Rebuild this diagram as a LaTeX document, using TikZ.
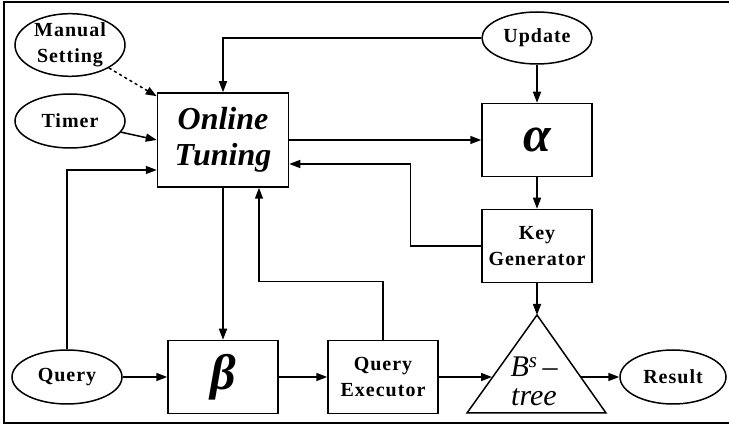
\documentclass[tikz,border=0pt]{standalone}
\usepackage{fontspec}
\setmainfont{Liberation Serif}
\usetikzlibrary{positioning,shapes.geometric,arrows.meta}
\tikzset{
  blk/.style={rectangle,draw,line width=1.5pt,minimum width=110pt,minimum height=73pt,font=\bfseries\fontsize{20}{26}\selectfont\addfontfeature{LetterSpace=5},align=center,inner sep=0pt},
  src/.style={ellipse,draw,line width=1.5pt,minimum width=110pt,minimum height=54pt,font=\bfseries\fontsize{20}{26}\selectfont\addfontfeature{LetterSpace=5},align=center,inner sep=0pt},
  bigtxt/.style={font=\bfseries\itshape\fontsize{32}{36}\selectfont},
  greek/.style={font=\bfseries\itshape\fontsize{50}{50}\selectfont},
  flow/.style={->,>={Triangle[length=11pt,width=8pt]},line width=1.5pt},
}

\begin{document}
\begin{tikzpicture}[x=1pt,y=-1pt]
  \useasboundingbox (0,0) rectangle (729,427);
  \clip (0,0) rectangle (729,427);
  \draw[line width=1.5pt] (4,2) rectangle (740,423);
  % sources
  \node[src] (manual) at (70,45) {Manual\\Setting};
  \node[src] (timer)  at (70,121) {Timer};
  \node[src] (query)  at (67,377) {Query};
  \node[src,minimum height=52pt] (update) at (537,38) {Update};
  \node[src,minimum width=106pt] (result) at (673,377) {Result};
  % blocks
  \node[blk,bigtxt,minimum width=131pt,minimum height=94pt] (tuning) at (223,140) {Online\\Tuning};
  \node[blk,greek] (alpha)  at (537,140) {α};
  \node[blk] (keygen) at (537,246) {Key\\Generator};
  \node[blk,greek] (beta)   at (223,377) {β};
  \node[blk] (qexec)  at (383,377) {Query\\Executor};
  % tree
  \coordinate (treetop) at (537,315);
  \coordinate (treeL) at (492,377);
  \coordinate (treeR) at (581,377);
  \draw[line width=1.5pt,line join=miter] (treetop) -- (606,413) -- (467,413) -- cycle;
  \node[align=center,font=\itshape\fontsize{30}{29}\selectfont,inner sep=0pt] (tree) at (534,381) {B\textsuperscript{s}\,–\\tree};
  % connectors
  \draw[flow] (update.west) -| (tuning.north);
  \draw[flow] (update) -- (alpha);
  \draw[flow,dashed] (manual) -- ([yshift=-4pt]tuning.north west);
  \draw[flow] (timer) -- (tuning.west);
  \draw[flow] (query.north) |- ([yshift=-30pt]tuning.west);
  \draw[flow] (tuning.east) -- (alpha.west);
  \draw[flow] (keygen.west) -- ++(-71,0) |- ([yshift=-24pt]tuning.east);
  \draw[flow] (tuning) -- (beta);
  \draw[flow] (qexec.north) -- ++(0,-58) -| ([xshift=36pt]tuning.south);
  \draw[flow] (alpha) -- (keygen);
  \draw[flow] (keygen) -- (treetop);
  \draw[flow] (query) -- (beta);
  \draw[flow] (beta) -- (qexec);
  \draw[flow] (qexec) -- (treeL);
  \draw[flow] (treeR) -- (result);
\end{tikzpicture}
\end{document}
